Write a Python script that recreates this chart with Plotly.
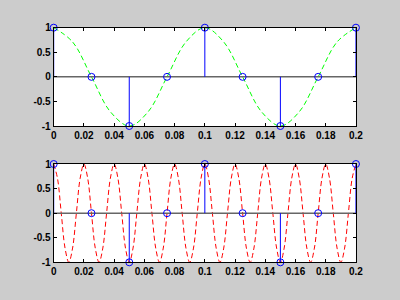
import plotly.graph_objects as go

# Sampled points (stem)
t_samp = [0, 0.025, 0.05, 0.075, 0.1, 0.125, 0.15, 0.175, 0.2]
v_samp = [1, 0, -1, 0, 1, 0, -1, 0, 1]

# Top continuous curve (10 Hz), read every 0.0125
t_top = [0, 0.0125, 0.025, 0.0375, 0.05, 0.0625, 0.075, 0.0875, 0.1,
         0.1125, 0.125, 0.1375, 0.15, 0.1625, 0.175, 0.1875, 0.2]
v_top = [1, 0.71, 0, -0.71, -1, -0.71, 0, 0.71, 1,
         0.71, 0, -0.71, -1, -0.71, 0, 0.71, 1]

# Bottom continuous curve (50 Hz), read every 0.0025
t_bot = [0, 0.0025, 0.005, 0.0075, 0.01, 0.0125, 0.015, 0.0175,
         0.02, 0.0225, 0.025, 0.0275, 0.03, 0.0325, 0.035, 0.0375,
         0.04, 0.0425, 0.045, 0.0475, 0.05, 0.0525, 0.055, 0.0575,
         0.06, 0.0625, 0.065, 0.0675, 0.07, 0.0725, 0.075, 0.0775,
         0.08, 0.0825, 0.085, 0.0875, 0.09, 0.0925, 0.095, 0.0975,
         0.1, 0.1025, 0.105, 0.1075, 0.11, 0.1125, 0.115, 0.1175,
         0.12, 0.1225, 0.125, 0.1275, 0.13, 0.1325, 0.135, 0.1375,
         0.14, 0.1425, 0.145, 0.1475, 0.15, 0.1525, 0.155, 0.1575,
         0.16, 0.1625, 0.165, 0.1675, 0.17, 0.1725, 0.175, 0.1775,
         0.18, 0.1825, 0.185, 0.1875, 0.19, 0.1925, 0.195, 0.1975,
         0.2]
v_bot = [1, 0.71, 0, -0.71, -1, -0.71, 0, 0.71,
         1, 0.71, 0, -0.71, -1, -0.71, 0, 0.71,
         1, 0.71, 0, -0.71, -1, -0.71, 0, 0.71,
         1, 0.71, 0, -0.71, -1, -0.71, 0, 0.71,
         1, 0.71, 0, -0.71, -1, -0.71, 0, 0.71,
         1, 0.71, 0, -0.71, -1, -0.71, 0, 0.71,
         1, 0.71, 0, -0.71, -1, -0.71, 0, 0.71,
         1, 0.71, 0, -0.71, -1, -0.71, 0, 0.71,
         1, 0.71, 0, -0.71, -1, -0.71, 0, 0.71,
         1, 0.71, 0, -0.71, -1, -0.71, 0, 0.71,
         1]

x_ticks = [0, 0.02, 0.04, 0.06, 0.08, 0.1, 0.12, 0.14, 0.16, 0.18, 0.2]
x_ticklabels = ["0", "0.02", "0.04", "0.06", "0.08", "0.1", "0.12", "0.14", "0.16", "0.18", "0.2"]
y_ticks = [-1, -0.5, 0, 0.5, 1]
y_ticklabels = ["-1", "-0.5", "0", "0.5", "1"]

fig = go.Figure()

def add_panel(xa, ya, tc, vc, color):
    fig.add_trace(go.Scatter(x=tc, y=vc, mode="lines", xaxis=xa, yaxis=ya,
                             line=dict(color=color, width=1, dash="5px,3px", shape="spline"),
                             showlegend=False, hoverinfo="skip"))
    # baseline
    fig.add_trace(go.Scatter(x=[t_samp[0], t_samp[-1]], y=[0, 0], mode="lines",
                             xaxis=xa, yaxis=ya, line=dict(color="#666666", width=1.5),
                             showlegend=False, hoverinfo="skip"))
    sx, sy = [], []
    for t, v in zip(t_samp, v_samp):
        sx += [t, t, None]
        sy += [0, v, None]
    fig.add_trace(go.Scatter(x=sx, y=sy, mode="lines", xaxis=xa, yaxis=ya,
                             line=dict(color="#0000FF", width=1),
                             showlegend=False, hoverinfo="skip"))
    fig.add_trace(go.Scatter(x=t_samp, y=v_samp, mode="markers", xaxis=xa, yaxis=ya,
                             marker=dict(symbol="circle-open", size=7, color="#0000FF",
                                         line=dict(width=1, color="#0000FF")),
                             cliponaxis=False, showlegend=False, hoverinfo="skip"))

add_panel("x", "y", t_top, v_top, "#00FF00")
add_panel("x2", "y2", t_bot, v_bot, "#FF0000")

axfont = dict(family="Liberation Sans, Arial", size=10, color="black", weight="bold")
common_x = dict(range=[0, 0.2], tickvals=x_ticks, ticktext=x_ticklabels,
                ticks="inside", ticklen=3, tickcolor="black", showline=True,
                linecolor="black", linewidth=1, mirror="ticks", showgrid=False,
                zeroline=False, tickfont=axfont, domain=[0.13, 0.905])
common_y = dict(range=[-1, 1], tickvals=y_ticks, ticktext=y_ticklabels,
                ticks="inside", ticklen=3, tickcolor="black", showline=True,
                linecolor="black", linewidth=1, mirror="ticks", showgrid=False,
                zeroline=False, tickfont=axfont)

fig.update_layout(
    width=400, height=300,
    margin=dict(l=0, r=0, t=0, b=0),
    paper_bgcolor="#CCCCCC", plot_bgcolor="white",
    xaxis=dict(common_x, anchor="y"),
    yaxis=dict(common_y, domain=[0.5833, 0.9247], anchor="x"),
    xaxis2=dict(common_x, anchor="y2"),
    yaxis2=dict(common_y, domain=[0.11, 0.4513], anchor="x2"),
)

fig.write_html("out.html")
